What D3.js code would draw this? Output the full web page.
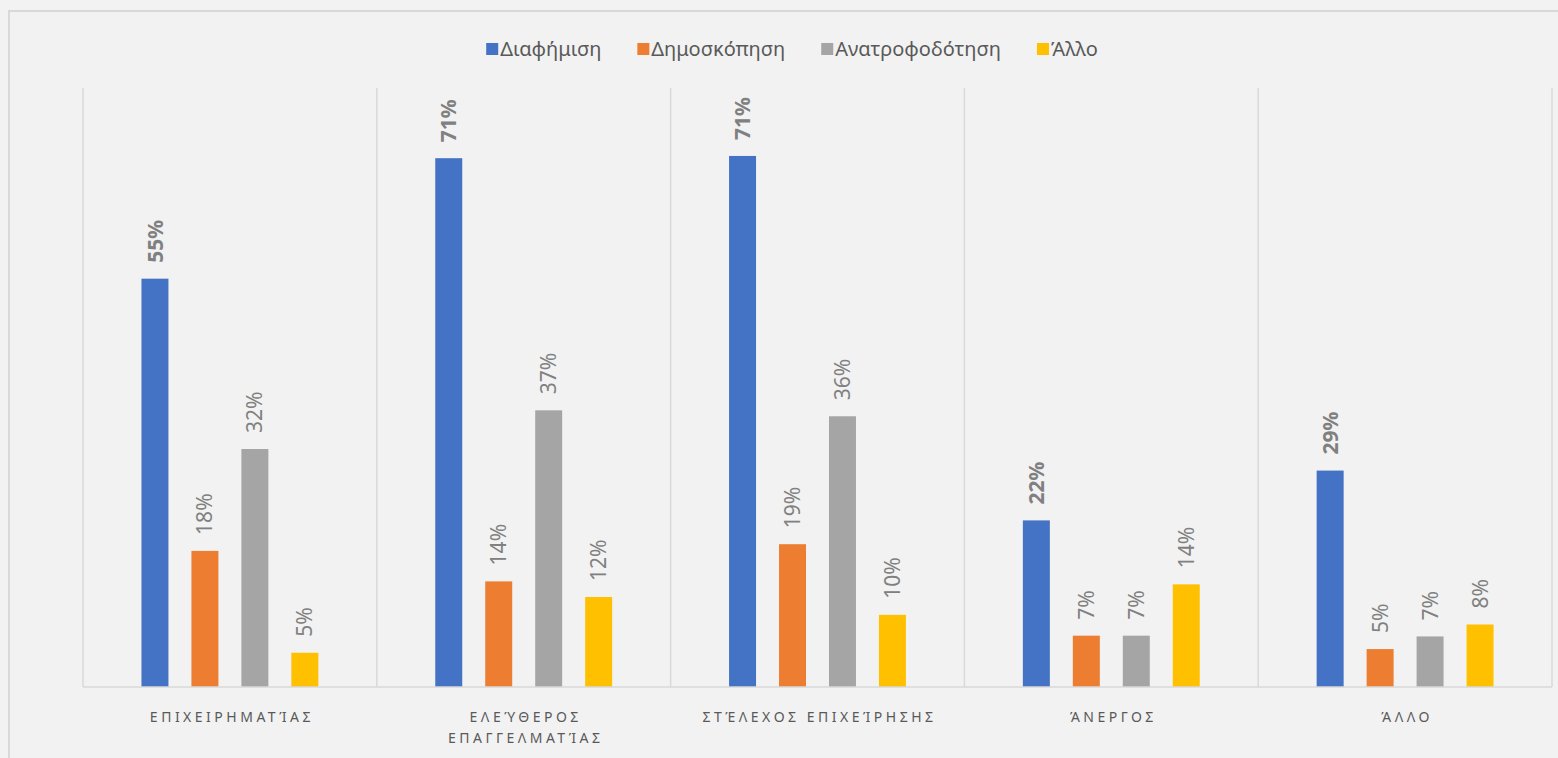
<!DOCTYPE html>
<html>
<head>
<meta charset="utf-8">
<script src="https://cdn.jsdelivr.net/npm/d3@7"></script>
<style>
  html, body { margin: 0; padding: 0; background: #f2f2f2; }
  svg { display: block; }
  text { font-family: "Noto Sans", "Open Sans", sans-serif; }
</style>
</head>
<body>
<svg id="chart" width="1558" height="758"></svg>
<script>
// categories and series
var categories = ["ΕΠΙΧΕΙΡΗΜΑΤΊΑΣ", "ΕΛΕΎΘΕΡΟΣ ΕΠΑΓΓΕΛΜΑΤΊΑΣ", "ΣΤΈΛΕΧΟΣ ΕΠΙΧΕΊΡΗΣΗΣ", "ΆΝΕΡΓΟΣ", "ΆΛΛΟ"];
var seriesNames = ["Διαφήμιση", "Δημοσκόπηση", "Ανατροφοδότηση", "Άλλο"];
var seriesColors = ["#4472c4", "#ed7d31", "#a5a5a5", "#ffc000"];

var diafimisi = [0.549, 0.711, 0.714, 0.224, 0.291];
var dimoskopisi = [0.183, 0.142, 0.192, 0.069, 0.051];
var anatrofodotisi = [0.320, 0.372, 0.364, 0.069, 0.068];
var allo = [0.046, 0.121, 0.097, 0.138, 0.084];

var seriesValues = [diafimisi, dimoskopisi, anatrofodotisi, allo];

var svg = d3.select("#chart");
var W = 1558, H = 758;
var margin = {left: 83, right: 6, top: 88, bottom: 71};
var baseY = H - margin.bottom;

// outer frame
svg.append("rect")
  .attr("x", 9).attr("y", 11)
  .attr("width", 1580).attr("height", 780)
  .attr("fill", "#f2f2f2")
  .attr("stroke", "#d9d9d9")
  .attr("stroke-width", 2);

var x0 = d3.scaleBand()
  .domain(categories)
  .range([margin.left, W - margin.right])
  .padding(0);

var x1 = d3.scaleBand()
  .domain(seriesNames)
  .range([0, x0.bandwidth()])
  .paddingInner(0.46)
  .paddingOuter(1.17);

var y = d3.scaleLinear()
  .domain([0, 0.8])
  .range([baseY, 92]);

// vertical separators
var bounds = categories.map(function(c){ return x0(c); }).concat([x0.range()[1]]);
svg.append("g").selectAll("line")
  .data(bounds)
  .enter().append("line")
  .attr("x1", function(d){ return d; })
  .attr("x2", function(d){ return d; })
  .attr("y1", margin.top)
  .attr("y2", baseY)
  .attr("stroke", "#d9d9d9")
  .attr("stroke-width", 1.5);

// bars
var fmt = d3.format(".0%");
var groups = svg.append("g").selectAll("g")
  .data(categories)
  .enter().append("g")
  .attr("transform", function(c){ return "translate(" + x0(c) + ",0)"; });

groups.each(function(c, ci){
  var g = d3.select(this);
  var rows = seriesNames.map(function(s, si){
    return {name: s, si: si, value: seriesValues[si][ci]};
  });
  g.selectAll("rect")
    .data(rows)
    .enter().append("rect")
    .attr("x", function(d){ return x1(d.name); })
    .attr("y", function(d){ return y(d.value); })
    .attr("width", x1.bandwidth())
    .attr("height", function(d){ return baseY - y(d.value); })
    .attr("fill", function(d){ return seriesColors[d.si]; });

  g.selectAll("text.lbl")
    .data(rows)
    .enter().append("text")
    .attr("class", "lbl")
    .attr("transform", function(d){
      return "translate(" + (x1(d.name) + x1.bandwidth() / 2) + "," + (y(d.value) - 16) + ") rotate(-90)";
    })
    .attr("dy", "0.36em")
    .attr("font-size", 21)
    .attr("font-weight", function(d){ return d.si === 0 ? "bold" : "normal"; })
    .attr("fill", "#808080")
    .text(function(d){ return fmt(d.value); });
});

// baseline
svg.append("line")
  .attr("x1", x0.range()[0]).attr("x2", x0.range()[1])
  .attr("y1", baseY).attr("y2", baseY)
  .attr("stroke", "#d9d9d9")
  .attr("stroke-width", 1.5);

// category labels (wrap long ones)
var catLabels = svg.append("g").selectAll("text")
  .data(categories)
  .enter().append("text")
  .attr("x", function(c){ return x0(c) + x0.bandwidth() / 2 + 2; })
  .attr("y", baseY + 35)
  .attr("text-anchor", "middle")
  .attr("font-size", 14)
  .attr("letter-spacing", "3.5px")
  .attr("fill", "#595959");

catLabels.each(function(c){
  var t = d3.select(this);
  var lines = c === "ΕΛΕΎΘΕΡΟΣ ΕΠΑΓΓΕΛΜΑΤΊΑΣ" ? c.split(" ") : [c];
  lines.forEach(function(l, i){
    t.append("tspan")
      .attr("x", t.attr("x"))
      .attr("dy", i === 0 ? 0 : 21)
      .text(l);
  });
});

// legend
var legend = svg.append("g");
var items = legend.selectAll("g")
  .data(seriesNames)
  .enter().append("g");
items.append("rect")
  .attr("width", 12).attr("height", 12)
  .attr("y", -6)
  .attr("fill", function(d, i){ return seriesColors[i]; });
items.append("text")
  .attr("x", 14)
  .attr("dy", "0.36em")
  .attr("font-size", 20)
  .attr("fill", "#595959")
  .text(function(d){ return d; });

var gap = 36;
var xpos = 0;
items.each(function(){
  var w = this.getBBox().width;
  d3.select(this).attr("transform", "translate(" + xpos + ",0)");
  xpos += w + gap;
});
var totalW = xpos - gap;
legend.attr("transform", "translate(" + (792 - totalW / 2) + ",49)");
</script>
</body>
</html>
